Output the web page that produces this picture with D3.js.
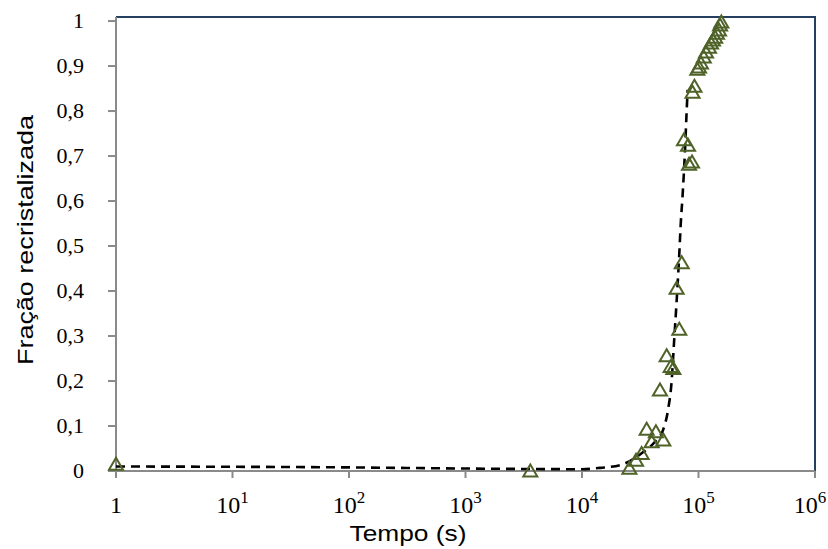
<!DOCTYPE html>
<html>
<head>
<meta charset="utf-8">
<script src="https://cdn.jsdelivr.net/npm/d3@7"></script>
<style>
  html, body { margin: 0; padding: 0; background: #ffffff; }
  svg { display: block; }
  .serif { font-family: "Liberation Serif", "Times New Roman", Tinos, "Nimbus Roman", "DejaVu Serif", serif; }
  .sans { font-family: "Liberation Sans", Arial, Arimo, "DejaVu Sans", sans-serif; }
</style>
</head>
<body>
<svg id="chart" width="828" height="549"></svg>
<script>
// ---- data ----
const obsTime = [1, 3600, 25500, 29100, 32500, 35900, 39600, 43100, 46700, 49900,
  53300, 57700, 60800, 64900, 68400, 71800, 75100, 81300, 82900, 88000,
  88900, 92300, 97700, 101000, 105000, 111000, 116000, 123000, 128000,
  133000, 139000, 144000, 150000, 153000, 157000];
const obsFrac = [0.015, 0.0, 0.006, 0.024, 0.039, 0.093, 0.065, 0.087, 0.18, 0.069,
  0.256, 0.232, 0.228, 0.406, 0.315, 0.463, 0.736, 0.724, 0.682, 0.687,
  0.842, 0.855, 0.893, 0.898, 0.907, 0.92, 0.931, 0.942, 0.951,
  0.958, 0.964, 0.973, 0.98, 0.991, 0.998];
const fitTime = [1, 100, 1000, 10000, 14300, 21200, 32700, 42300, 49600, 54700,
  58900, 61600, 65000, 68000, 70700, 72600, 76600, 79200, 80700];
const fitFrac = [0.010, 0.008, 0.0055, 0.004, 0.007, 0.013, 0.04, 0.065, 0.091, 0.135,
  0.202, 0.284, 0.38, 0.469, 0.558, 0.602, 0.713, 0.802, 0.847];
const xTickValues = [1, 10, 100, 1000, 10000, 100000, 1000000];
const xTickBase = ["1", "10", "10", "10", "10", "10", "10"];
const xTickExp = ["", "1", "2", "3", "4", "5", "6"];
const yTickValues = [0, 0.1, 0.2, 0.3, 0.4, 0.5, 0.6, 0.7, 0.8, 0.9, 1];
const xTitle = "Tempo (s)";
const yTitle = "Fração recristalizada";

// ---- layout ----
const svg = d3.select("#chart");
const mLeft = 116, mRight = 815, mTop = 17, mBottom = 471;
const x = d3.scaleLog().domain([1, 1e6]).range([mLeft, mRight]);
const y = d3.scaleLinear().domain([0, 1.009]).range([mBottom, mTop]);
const fmt = v => (v === 0 ? "0" : v === 1 ? "1" : String(v).replace(".", ","));

// frame top/right
svg.append("path")
  .attr("d", `M${mLeft},${y(1.009)}H${x(1e6)}V${y(0)}`)
  .attr("fill", "none").attr("stroke", "#243f60").attr("stroke-width", 2);

// y axis
const gy = svg.append("g");
gy.append("line").attr("x1", mLeft).attr("x2", mLeft).attr("y1", y(1.009)).attr("y2", y(0) + 7)
  .attr("stroke", "#8a8a8a").attr("stroke-width", 2);
gy.selectAll("line.t").data(yTickValues).join("line").attr("class", "t")
  .attr("x1", mLeft - 8).attr("x2", mLeft).attr("y1", d => y(d)).attr("y2", d => y(d))
  .attr("stroke", "#8a8a8a").attr("stroke-width", 2);
gy.selectAll("text").data(yTickValues).join("text")
  .attr("class", "serif")
  .attr("x", mLeft - 32).attr("y", d => y(d) + 7)
  .attr("text-anchor", "end")
  .attr("font-size", 22).attr("fill", "#000")
  .text(fmt);

// x axis
const gx = svg.append("g");
gx.append("line").attr("x1", mLeft - 8).attr("x2", mRight).attr("y1", mBottom).attr("y2", mBottom)
  .attr("stroke", "#8a8a8a").attr("stroke-width", 2);
gx.selectAll("line.t").data(xTickValues).join("line").attr("class", "t")
  .attr("x1", d => x(d)).attr("x2", d => x(d)).attr("y1", mBottom).attr("y2", mBottom + 7)
  .attr("stroke", "#8a8a8a").attr("stroke-width", 2);
const xt = gx.selectAll("text").data(xTickValues).join("text")
  .attr("class", "serif")
  .attr("x", d => Math.min(x(d), 810)).attr("y", 513)
  .attr("text-anchor", "middle")
  .attr("font-size", 24).attr("fill", "#000");
xt.append("tspan").text((d, i) => xTickBase[i]);
xt.append("tspan").attr("dy", -10).attr("font-size", 17).text((d, i) => xTickExp[i]);

// fit curve
const line = d3.line().x(d => x(d[0])).y(d => y(d[1])).curve(d3.curveMonotoneX);
svg.append("path")
  .datum(fitTime.map((t, i) => [t, fitFrac[i]]))
  .attr("d", line)
  .attr("fill", "none").attr("stroke", "#000").attr("stroke-width", 2.6)
  .attr("stroke-dasharray", "9,6");

// markers
const tri = "M0,-6.5L7,5.5L-7,5.5Z";
svg.selectAll("path.m").data(obsTime.map((t, i) => [t, obsFrac[i]])).join("path")
  .attr("class", "m")
  .attr("transform", d => `translate(${x(d[0])},${y(d[1])})`)
  .attr("d", tri)
  .attr("fill", "none").attr("stroke", "#4f6228").attr("stroke-width", 2);

// titles
svg.append("text")
  .attr("class", "sans")
  .attr("x", 408).attr("y", 541).attr("text-anchor", "middle")
  .attr("font-size", 22)
  .attr("textLength", 117).attr("lengthAdjust", "spacingAndGlyphs")
  .text(xTitle);
svg.append("text")
  .attr("class", "sans")
  .attr("transform", "translate(33,240) rotate(-90)").attr("text-anchor", "middle")
  .attr("font-size", 22)
  .attr("textLength", 250).attr("lengthAdjust", "spacingAndGlyphs")
  .text(yTitle);
</script>
</body>
</html>
